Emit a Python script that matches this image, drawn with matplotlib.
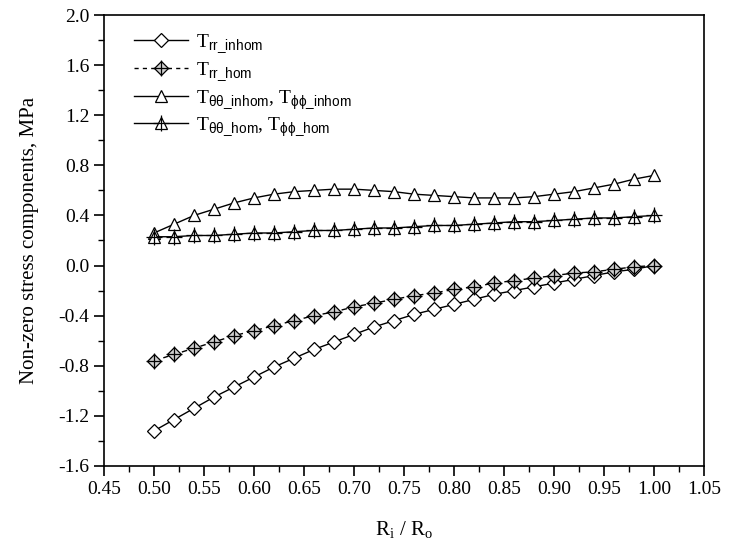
import numpy as np
import matplotlib
matplotlib.use('Agg')
import matplotlib.pyplot as plt
from matplotlib.lines import Line2D
from matplotlib.ticker import MultipleLocator

plt.rcParams['font.family'] = ['Liberation Serif', 'DejaVu Serif']
plt.rcParams['mathtext.fontset'] = 'custom'
plt.rcParams['mathtext.rm'] = 'Liberation Serif'
plt.rcParams['mathtext.sf'] = 'Liberation Sans'

# R_i / R_o
ratio = [0.50, 0.52, 0.54, 0.56, 0.58, 0.60, 0.62, 0.64, 0.66, 0.68, 0.70, 0.72, 0.74,
         0.76, 0.78, 0.80, 0.82, 0.84, 0.86, 0.88, 0.90, 0.92, 0.94, 0.96, 0.98, 1.00]

trr_inhom = [-1.32, -1.23, -1.14, -1.05, -0.97, -0.89, -0.81, -0.74, -0.67, -0.61, -0.55,
             -0.49, -0.44, -0.39, -0.35, -0.31, -0.27, -0.23, -0.20, -0.17, -0.14, -0.11,
             -0.08, -0.05, -0.03, 0.00]
trr_hom = [-0.76, -0.71, -0.66, -0.61, -0.56, -0.52, -0.48, -0.44, -0.40, -0.37, -0.33,
           -0.30, -0.27, -0.24, -0.22, -0.19, -0.17, -0.14, -0.12, -0.10, -0.08, -0.06,
           -0.05, -0.03, -0.01, 0.00]
ttt_inhom = [0.26, 0.33, 0.40, 0.45, 0.50, 0.54, 0.57, 0.59, 0.60, 0.61, 0.61, 0.60, 0.59,
             0.57, 0.56, 0.55, 0.54, 0.54, 0.54, 0.55, 0.57, 0.59, 0.62, 0.65, 0.69, 0.72]
ttt_hom = [0.23, 0.23, 0.24, 0.24, 0.25, 0.26, 0.26, 0.27, 0.28, 0.28, 0.29, 0.30, 0.30,
           0.31, 0.32, 0.32, 0.33, 0.34, 0.35, 0.35, 0.36, 0.37, 0.38, 0.38, 0.39, 0.40]

labels = [r'T$_{\mathsf{rr\_inhom}}$',
          r'T$_{\mathsf{rr\_hom}}$',
          r'T$_{\mathsf{θθ\_inhom}}$, T$_{\mathsf{ϕϕ\_inhom}}$',
          r'T$_{\mathsf{θθ\_hom}}$, T$_{\mathsf{ϕϕ\_hom}}$']

fig = plt.figure(figsize=(7.35, 5.58), dpi=100)
ax = fig.add_axes([0.1415, 0.165, 0.8165, 0.808])

lw = 1.0
gray = '#cfcfcf'
ax.plot(ratio, trr_inhom, '-', color='black', lw=lw, marker='D', ms=7,
        mfc='white', mec='black', mew=0.9)
ax.plot(ratio, trr_hom, '--', color='black', lw=lw, marker='D', ms=7,
        mfc=gray, mec='black', mew=0.9, dashes=(4, 3))
ax.plot(ratio, trr_hom, ls='none', marker='+', ms=11, mec='black', mew=0.9)
ax.plot(ratio, ttt_inhom, '-', color='black', lw=lw, marker='^', ms=9,
        mfc='white', mec='black', mew=0.9)
ax.plot(ratio, ttt_hom, '-', color='black', lw=lw, marker='^', ms=9,
        mfc='white', mec='black', mew=0.9)
ax.plot(ratio, ttt_hom, ls='none', marker='+', ms=12, mec='black', mew=0.9)

ax.set_xlim(0.45, 1.05)
ax.set_ylim(-1.6, 2.0)
ax.xaxis.set_major_locator(MultipleLocator(0.05))
ax.xaxis.set_minor_locator(MultipleLocator(0.025))
ax.yaxis.set_major_locator(MultipleLocator(0.4))
ax.yaxis.set_minor_locator(MultipleLocator(0.2))
ax.xaxis.set_major_formatter(plt.FormatStrFormatter('%.2f'))
ax.yaxis.set_major_formatter(plt.FormatStrFormatter('%.1f'))
ax.tick_params(which='major', direction='out', length=7, width=1.2, labelsize=14)
ax.tick_params(which='minor', direction='out', length=4, width=1.0)
ax.tick_params(top=False, right=False, which='both')
for s in ax.spines.values():
    s.set_linewidth(1.2)

ax.set_xlabel(r'R$_\mathrm{i}$ / R$_\mathrm{o}$', fontsize=15, labelpad=16)
ax.set_ylabel('Non-zero stress components, MPa', fontsize=15, labelpad=14)

# legend handles
h1 = Line2D([], [], color='black', lw=lw, marker='D', ms=7, mfc='white', mec='black', mew=0.9)
h2 = (Line2D([], [], color='black', lw=lw, ls='--', dashes=(3, 3), marker='D', ms=7,
             mfc=gray, mec='black', mew=0.9),
      Line2D([], [], ls='none', marker='+', ms=11, mec='black', mew=0.9))
h3 = Line2D([], [], color='black', lw=lw, marker='^', ms=9, mfc='white', mec='black', mew=0.9)
h4 = (Line2D([], [], color='black', lw=lw, marker='^', ms=9, mfc='white', mec='black', mew=0.9),
      Line2D([], [], ls='none', marker='+', ms=12, mec='black', mew=0.9))
ax.legend([h1, h2, h3, h4], labels, loc='upper left', frameon=False, fontsize=14,
          handlelength=2.8, handletextpad=0.4, labelspacing=0.25,
          bbox_to_anchor=(0.02, 1.0))

fig.savefig('out.png', dpi=100, facecolor='white')
